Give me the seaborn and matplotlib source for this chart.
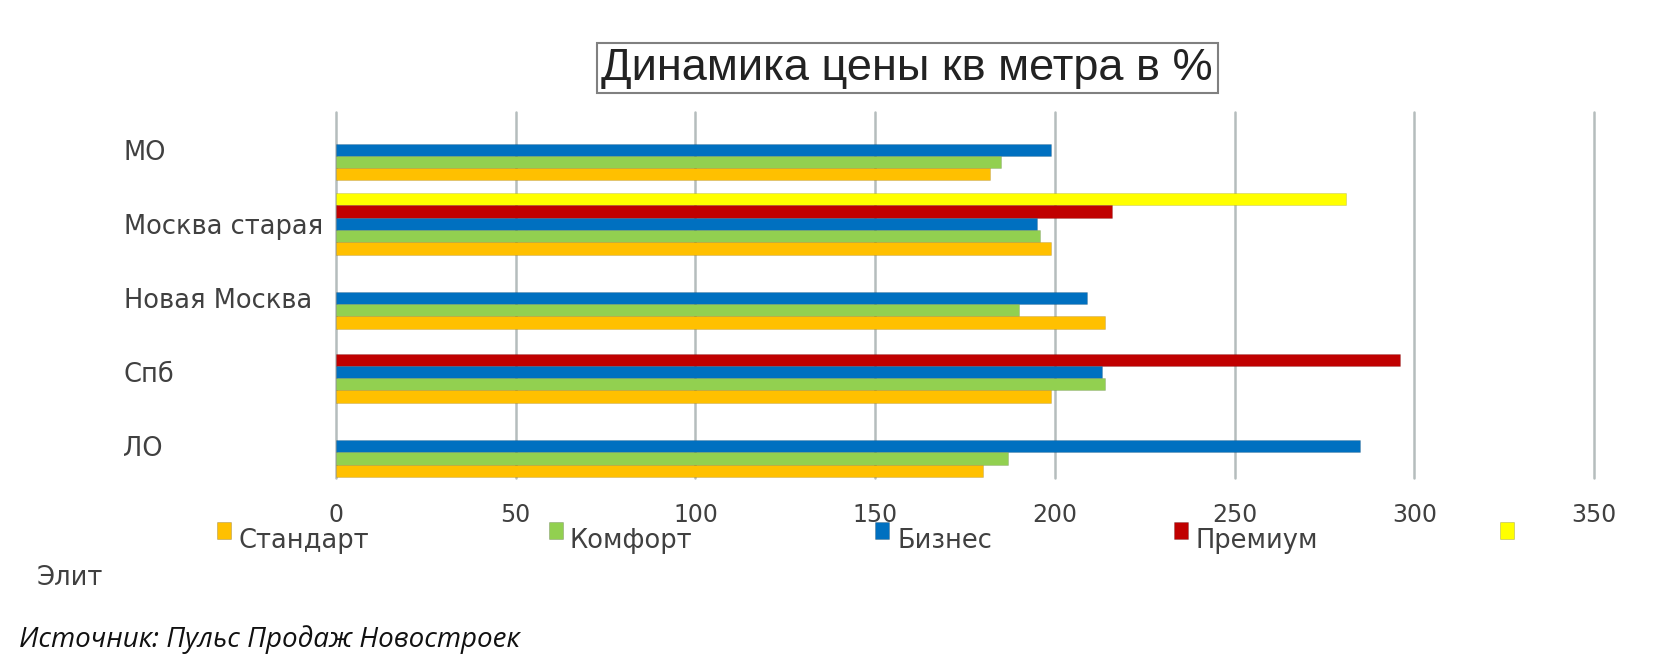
import numpy as np
import pandas as pd
import matplotlib
matplotlib.use('Agg')
import matplotlib.pyplot as plt
from matplotlib.patches import Rectangle
import seaborn as sns

# Data (NaN = no bar)
regions = ['МО', 'Москва старая', 'Новая Москва', 'Спб', 'ЛО']
standart = [182, 199, 214, 199, 180]
komfort = [185, 196, 190, 214, 187]
biznes = [199, 195, 209, 213, 285]
premium = [np.nan, 216, np.nan, 296, np.nan]
elit = [np.nan, 281, np.nan, np.nan, np.nan]

series_names = ['Стандарт', 'Комфорт', 'Бизнес', 'Премиум', 'Элит']
series_values = [standart, komfort, biznes, premium, elit]
colors = {'Стандарт': '#FFC000', 'Комфорт': '#92D050', 'Бизнес': '#0070C0',
          'Премиум': '#C00000', 'Элит': '#FFFF00'}
x_ticks = [0, 50, 100, 150, 200, 250, 300, 350]

rows = []
for name, vals in zip(series_names, series_values):
    for reg, v in zip(regions, vals):
        rows.append({'Регион': reg, 'Сегмент': name, 'Значение': v})
df = pd.DataFrame(rows)

sns.set_style('white')
plt.rcParams['font.family'] = ['DejaVu Sans']

fig = plt.figure(figsize=(16.8, 6.62), dpi=100)
ax = fig.add_axes([0.2, 0.278, 0.7488, 0.553])

# top of each group is Элит, bottom is Стандарт
sns.barplot(data=df, x='Значение', y='Регион', hue='Сегмент',
            order=regions, hue_order=series_names[::-1],
            palette=colors, orient='h', width=0.83, errorbar=None,
            saturation=1, legend=False, ax=ax, zorder=3)

for p in ax.patches:
    p.set_edgecolor('#00000022')
    p.set_linewidth(0.6)

ax.set_xlim(0, 350)
ax.set_ylim(4.43, -0.51)
ax.set_xticks(x_ticks)
ax.grid(axis='x', color='#b5bdbd', linewidth=1.8, zorder=0)
ax.grid(axis='y', visible=False)
for line in ax.get_xgridlines():
    line.set_clip_on(False)
for s in ax.spines.values():
    s.set_visible(False)
ax.set_xlabel('')
ax.set_ylabel('')
ax.tick_params(axis='x', length=5, width=1.8, color='#b5bdbd', pad=13,
               labelsize=17, labelcolor='#404040')
ax.tick_params(axis='y', length=0, pad=153, labelsize=18.5, labelcolor='#404040')
for lbl in ax.get_yticklabels():
    lbl.set_ha('left')

# title with a box
fig.text(0.54, 0.897, 'Динамика цены кв метра в %', ha='center', va='center',
         fontsize=32.5, color='#222222', family=['Liberation Sans', 'DejaVu Sans'],
         bbox=dict(boxstyle='square,pad=0.1', facecolor='white',
                   edgecolor='#808080', linewidth=1.5))

# legend laid out as in the reference
W, H = 1680, 662
marker_x = [217, 549, 875, 1174, 1500]
label_x = [238, 570, 897, 1196]
for i, name in enumerate(series_names):
    fig.add_artist(Rectangle((marker_x[i] / W, 1 - 539 / H), 14 / W, 17 / H,
                             transform=fig.transFigure, facecolor=colors[name],
                             edgecolor='#00000033', linewidth=0.6))
for i, name in enumerate(series_names[:4]):
    fig.text(label_x[i] / W, 1 - 541 / H, name, ha='left', va='center',
             fontsize=18.5, color='#404040')
fig.text(37 / W, 1 - 578 / H, series_names[4], ha='left', va='center',
         fontsize=18.5, color='#404040')

fig.text(19 / W, 1 - 640 / H, 'Источник: Пульс Продаж Новостроек', ha='left',
         va='center', fontsize=20, style='italic', color='#111111',
         family=['Open Sans', 'DejaVu Sans'])

fig.savefig('out.png', dpi=100)
